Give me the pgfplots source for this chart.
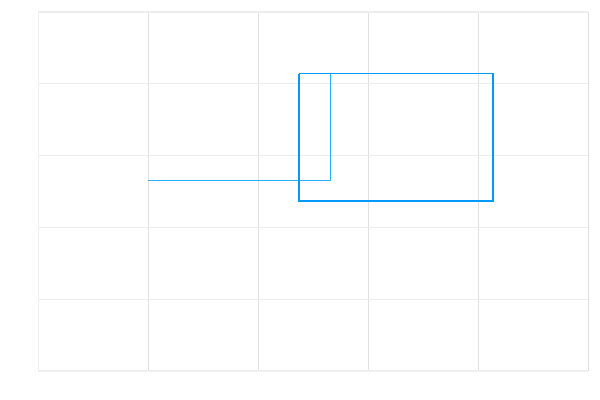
\documentclass[border=0pt]{standalone}
\usepackage{pgfplots}
\pgfplotsset{compat=1.18}
\definecolor{jblue}{RGB}{0,154,250}
\definecolor{lblue}{RGB}{40,175,255}
\begin{document}
\begin{tikzpicture}
\path[use as bounding box] (-28.5pt,-21.75pt) rectangle (421.5pt,278.25pt);
\begin{axis}[at={(0,0)}, anchor=south west, scale only axis,
  width=412.5pt, height=269.25pt,
  xmin=0, xmax=5, ymin=0, ymax=5,
  xtick={0,1,2,3,4,5}, ytick={0,1,2,3,4,5},
  xticklabels={}, yticklabels={},
  major tick length=0pt,
  grid=major,
  x grid style={draw=black!12, line width=0.5pt},
  y grid style={draw=black!7, line width=0.8pt},
  axis line style={draw=black!6, line width=0.6pt},
  axis x line*=bottom, axis y line*=left,
  clip=false]
\addplot[draw=lblue, line width=0.75pt] coordinates {
(1,2.66) (2.655,2.66) (2.655,4.14) (2.373,4.14)};
\addplot[draw=jblue, line width=1pt] coordinates {
(2.373,4.14) (2.373,2.368) (4.137,2.368) (4.137,4.14) (2.373,4.14)};
\end{axis}
\end{tikzpicture}
\end{document}
